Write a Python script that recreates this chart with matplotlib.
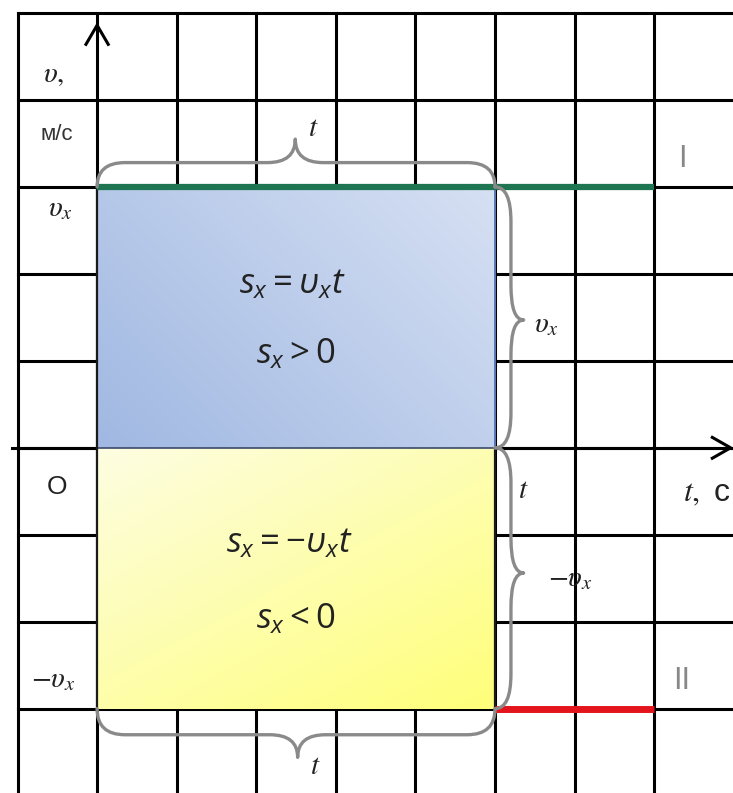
import numpy as np
import matplotlib.pyplot as plt
from matplotlib.path import Path
from matplotlib.patches import PathPatch
from matplotlib.colors import to_rgb

plt.rcParams['mathtext.fontset'] = 'custom'
plt.rcParams['mathtext.it'] = 'Open Sans:italic'
plt.rcParams['mathtext.rm'] = 'Open Sans'

# сетка (в клетках)
grid_x = [-1, 0, 1, 2, 3, 4, 5, 6, 7]
grid_y = [-3, -2, -1, 0, 1, 2, 3, 4, 5]
vx = 3          # скорость, клеток
t_end = 5       # время t
line_end = 7    # конец графиков I и II

x_min, x_max = -1.22, 7.99
y_min, y_max = -3.97, 5.15


def gradient(ax, x0, x1, y0, y1, c_a, c_b, k_func):
    # заливка прямоугольника с плавным переходом цвета
    xs = np.linspace(0, 1, 200)
    ys = np.linspace(0, 1, 120)
    X, Y = np.meshgrid(xs, ys)
    k = k_func(X, Y)
    a = np.array(to_rgb(c_a))
    b = np.array(to_rgb(c_b))
    img = a[None, None, :] * (1 - k[..., None]) + b[None, None, :] * k[..., None]
    ax.imshow(img, extent=(x0, x1, y0, y1), origin='lower', aspect='auto', zorder=2)


def brace_patch(verts):
    codes = [Path.MOVETO, Path.CURVE3, Path.CURVE3,
             Path.LINETO, Path.CURVE3, Path.CURVE3,
             Path.CURVE3, Path.CURVE3,
             Path.LINETO, Path.CURVE3, Path.CURVE3]
    return PathPatch(Path(verts, codes), fill=False, ec='#8a8a8a', lw=2.4, zorder=5,
                     capstyle='round', joinstyle='round')


def hbrace(ax, x0, x1, y_end, y_mid, y_tip, xc, r=0.35):
    verts = [(x0, y_end), (x0, y_mid), (x0 + r, y_mid),
             (xc - r, y_mid), (xc, y_mid), (xc, y_tip),
             (xc, y_mid), (xc + r, y_mid),
             (x1 - r, y_mid), (x1, y_mid), (x1, y_end)]
    ax.add_patch(brace_patch(verts))


def vbrace(ax, y0, y1, x_end, x_mid, x_tip, yc, r=0.35):
    verts = [(x_end, y0), (x_mid, y0), (x_mid, y0 + r),
             (x_mid, yc - r), (x_mid, yc), (x_tip, yc),
             (x_mid, yc), (x_mid, yc + r),
             (x_mid, y1 - r), (x_mid, y1), (x_end, y1)]
    ax.add_patch(brace_patch(verts))


fig = plt.figure(figsize=(7.33, 7.93), dpi=100)
ax = fig.add_axes([0, 0, 1, 1])

# сетка
for gx in grid_x:
    ax.plot([gx, gx], [y_min, 5], color='black', lw=2.2, zorder=1)
for gy in grid_y:
    ax.plot([-1, x_max], [gy, gy], color='black', lw=2.2, zorder=1)
ax.plot([-1.07, x_max], [0, 0], color='black', lw=2.2, zorder=1)

# площади
gradient(ax, 0, t_end, 0, vx, '#a0b8e2', '#d6e0f3', lambda X, Y: 0.6 * X + 0.4 * Y)
gradient(ax, 0, t_end, -vx, 0, '#fdfde2', '#ffff7a', lambda X, Y: 0.45 * X + 0.55 * (1 - Y))
ax.plot([0, t_end], [0, 0], color='#3a4a6a', lw=1.2, zorder=3)
ax.plot([0, 0], [-vx, vx], color='#1a1a1a', lw=1.6, zorder=3)
ax.plot([t_end, t_end], [0, vx], color='#5a78b8', lw=1.4, zorder=3)
ax.plot([t_end, t_end], [-vx, 0], color='#1a1a1a', lw=1.6, zorder=3)

# графики
ax.plot([0, line_end], [vx, vx], color='#1d7552', lw=4.5, zorder=4, solid_capstyle='butt')
ax.plot([t_end, line_end], [-vx, -vx], color='#e3141c', lw=5, zorder=4, solid_capstyle='butt')

# стрелки осей
ax.plot([-0.14, 0, 0.14], [4.64, 4.86, 4.64], color='black', lw=2.2, zorder=6)
ax.plot([7.73, 7.96, 7.73], [0.12, 0, -0.12], color='black', lw=2.2, zorder=6)

# фигурные скобки
hbrace(ax, 0, t_end, vx, 3.28, 3.55, 2.49)
hbrace(ax, 0, t_end, -vx, -3.30, -3.56, 2.52)
vbrace(ax, 0, vx, t_end, 5.2, 5.36, 1.47, r=0.4)
vbrace(ax, -vx, 0, t_end, 5.2, 5.36, -1.44, r=0.4)

txt = '#222222'
lab = dict(fontsize=21, ha='center', va='center', zorder=7, color=txt, math_fontfamily='stix')

ax.text(-0.55, 4.3, r'$υ,$', **lab)
ax.text(-0.5, 3.6, 'м/с', fontsize=16, ha='center', va='center', zorder=7,
        family=['Liberation Sans', 'DejaVu Sans'], color='#333333')
ax.text(-0.46, 2.76, r'$υ_x$', **lab)
ax.text(-0.5, -0.45, 'O', fontsize=19, ha='center', va='center', zorder=7,
        family=['Liberation Sans', 'DejaVu Sans'], color=txt)
ax.text(-0.55, -2.66, r'$-υ_x$', **lab)

ax.text(2.72, 3.68, r'$t$', **lab)
ax.text(5.65, 1.42, r'$υ_x$', **lab)
ax.text(5.35, -0.48, r'$t$', **lab)
ax.text(5.95, -1.5, r'$-υ_x$', **lab)
ax.text(2.74, -3.66, r'$t$', **lab)
ax.text(7.36, -0.52, r'$t,$ c', fontsize=23, ha='left', va='center', zorder=7,
        color=txt, math_fontfamily='stix', family=['Liberation Sans', 'DejaVu Sans'])

ax.text(7.35, 3.32, 'I', fontsize=22, ha='center', va='center', zorder=7,
        family=['Liberation Sans', 'DejaVu Sans'], color='#888888')
ax.text(7.35, -2.68, 'II', fontsize=22, ha='center', va='center', zorder=7,
        family=['Liberation Sans', 'DejaVu Sans'], color='#888888')

# формулы
ax.text(2.45, 1.88, r'$s_x = υ_x t$', fontsize=25, ha='center', va='center', zorder=7, color=txt)
ax.text(2.5, 1.08, r'$s_x > 0$', fontsize=25, ha='center', va='center', zorder=7, color=txt)
ax.text(2.42, -1.1, r'$s_x = -υ_x t$', fontsize=25, ha='center', va='center', zorder=7, color=txt)
ax.text(2.5, -1.96, r'$s_x < 0$', fontsize=25, ha='center', va='center', zorder=7, color=txt)

ax.set_xlim(x_min, x_max)
ax.set_ylim(y_min, y_max)
ax.axis('off')

fig.savefig('out.png', dpi=100)
